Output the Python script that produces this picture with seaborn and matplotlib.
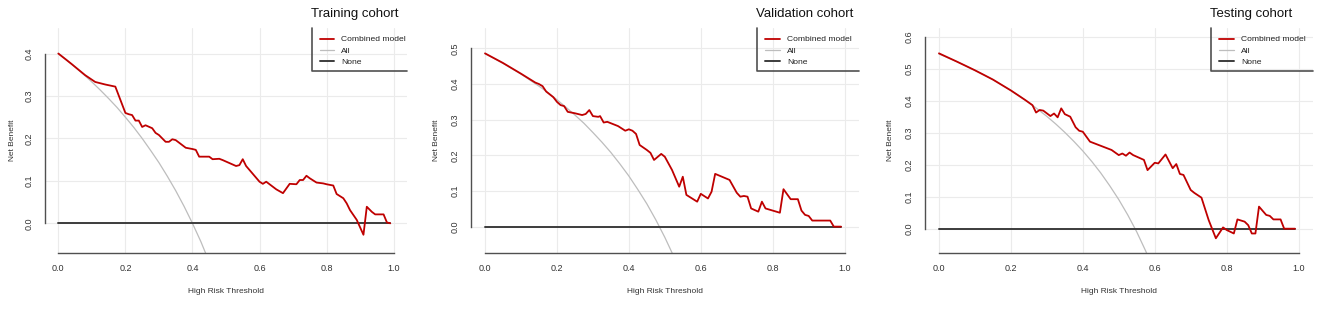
import matplotlib
matplotlib.use("Agg")
import matplotlib.pyplot as plt
import seaborn as sns
import numpy as np

sns.set_style("white")
plt.rcParams['font.family'] = ['Liberation Sans', 'DejaVu Sans']

# ---- data ----
titles = ["Training cohort", "Validation cohort", "Testing cohort"]
legend_labels = ["Combined model", "All", "None"]
x_ticks = [0.0, 0.2, 0.4, 0.6, 0.8, 1.0]
y_ticks_train = [0.0, 0.1, 0.2, 0.3, 0.4]
y_ticks_valid = [0.0, 0.1, 0.2, 0.3, 0.4, 0.5]
y_ticks_test = [0.0, 0.1, 0.2, 0.3, 0.4, 0.5, 0.6]

# treat-all curves
all_t = [0.000, 0.025, 0.050, 0.075, 0.100, 0.125, 0.150, 0.175, 0.200, 0.225,
         0.250, 0.275, 0.300, 0.325, 0.350, 0.375, 0.400, 0.425, 0.450, 0.475,
         0.500, 0.525, 0.550, 0.575, 0.600]
all_train = [0.400, 0.385, 0.368, 0.351, 0.333, 0.314, 0.294, 0.273, 0.250, 0.226,
             0.200, 0.172, 0.143, 0.111, 0.077, 0.040, 0.000, -0.043, -0.091, -0.145,
             -0.200, -0.262, -0.333, -0.412, -0.500]
all_valid = [0.485, 0.472, 0.458, 0.443, 0.428, 0.411, 0.394, 0.376, 0.356, 0.335,
             0.313, 0.290, 0.264, 0.237, 0.208, 0.176, 0.142, 0.104, 0.064, 0.019,
             -0.030, -0.084, -0.144, -0.212, -0.288]
all_test = [0.546, 0.534, 0.522, 0.509, 0.495, 0.481, 0.466, 0.449, 0.432, 0.414,
            0.394, 0.373, 0.351, 0.327, 0.301, 0.273, 0.243, 0.210, 0.174, 0.134,
            0.091, 0.043, -0.010, -0.070, -0.137]

# treat-none
none_t = [0.0, 0.99]
none_v = [0.0, 0.0]

# combined model
model_t_train = [0.00, 0.04, 0.08, 0.11, 0.14, 0.17, 0.20, 0.21, 0.22, 0.23, 0.24, 0.25,
                 0.26, 0.28, 0.29, 0.30, 0.32, 0.33, 0.34, 0.35, 0.38, 0.40, 0.41, 0.42,
                 0.45, 0.46, 0.48, 0.49, 0.53, 0.54, 0.55, 0.56, 0.60, 0.61, 0.62, 0.63,
                 0.65, 0.67, 0.69, 0.71, 0.72, 0.73, 0.74, 0.75, 0.77, 0.79, 0.80, 0.82,
                 0.83, 0.85, 0.86, 0.87, 0.89, 0.91, 0.92, 0.935, 0.945, 0.97, 0.98, 0.99]
model_v_train = [0.400, 0.375, 0.349, 0.333, 0.327, 0.322, 0.260, 0.257, 0.255, 0.242, 0.242, 0.227,
                 0.231, 0.224, 0.213, 0.208, 0.192, 0.192, 0.198, 0.196, 0.178, 0.175, 0.173, 0.157,
                 0.157, 0.151, 0.152, 0.149, 0.135, 0.137, 0.151, 0.135, 0.098, 0.093, 0.098, 0.092,
                 0.080, 0.071, 0.093, 0.092, 0.102, 0.102, 0.112, 0.106, 0.096, 0.094, 0.092, 0.089,
                 0.069, 0.059, 0.047, 0.031, 0.008, -0.027, 0.039, 0.027, 0.021, 0.021, 0.002, 0.000]

model_t_valid = [0.00, 0.05, 0.10, 0.14, 0.15, 0.16, 0.17, 0.19, 0.20, 0.21, 0.22, 0.23,
                 0.25, 0.27, 0.28, 0.29, 0.30, 0.315, 0.32, 0.33, 0.34, 0.37, 0.39, 0.40,
                 0.41, 0.42, 0.43, 0.45, 0.46, 0.47, 0.49, 0.50, 0.52, 0.54, 0.55, 0.56,
                 0.59, 0.60, 0.62, 0.63, 0.64, 0.68, 0.70, 0.71, 0.72, 0.73, 0.74, 0.76,
                 0.77, 0.78, 0.82, 0.83, 0.85, 0.87, 0.88, 0.89, 0.90, 0.91, 0.96, 0.97, 0.99]
model_v_valid = [0.486, 0.459, 0.429, 0.404, 0.400, 0.394, 0.379, 0.363, 0.350, 0.341, 0.338, 0.322,
                 0.318, 0.313, 0.316, 0.327, 0.310, 0.308, 0.310, 0.292, 0.294, 0.282, 0.269, 0.273,
                 0.269, 0.260, 0.229, 0.215, 0.207, 0.187, 0.204, 0.196, 0.159, 0.112, 0.140, 0.089,
                 0.070, 0.092, 0.079, 0.098, 0.148, 0.131, 0.095, 0.084, 0.086, 0.084, 0.051, 0.042,
                 0.070, 0.051, 0.039, 0.105, 0.077, 0.077, 0.045, 0.033, 0.030, 0.017, 0.017, 0.000, 0.000]

model_t_test = [0.00, 0.05, 0.10, 0.15, 0.20, 0.24, 0.26, 0.27, 0.28, 0.29, 0.31, 0.32,
                0.33, 0.34, 0.35, 0.365, 0.38, 0.39, 0.40, 0.42, 0.45, 0.48, 0.50, 0.51,
                0.52, 0.53, 0.54, 0.56, 0.57, 0.58, 0.60, 0.61, 0.63, 0.65, 0.66, 0.67,
                0.68, 0.70, 0.71, 0.73, 0.75, 0.77, 0.79, 0.80, 0.82, 0.83, 0.85, 0.86,
                0.87, 0.88, 0.89, 0.91, 0.92, 0.93, 0.95, 0.96, 0.99]
model_v_test = [0.548, 0.522, 0.495, 0.466, 0.432, 0.402, 0.386, 0.363, 0.371, 0.369, 0.352, 0.360,
                0.348, 0.376, 0.358, 0.350, 0.317, 0.306, 0.303, 0.272, 0.259, 0.246, 0.230, 0.235,
                0.228, 0.238, 0.230, 0.220, 0.215, 0.183, 0.206, 0.204, 0.232, 0.189, 0.202, 0.171,
                0.168, 0.121, 0.112, 0.097, 0.027, -0.030, 0.004, -0.004, -0.015, 0.029, 0.022, 0.011,
                -0.015, -0.015, 0.069, 0.043, 0.040, 0.029, 0.029, 0.000, 0.000]

panels = [
    dict(title=titles[0], mt=model_t_train, mv=model_v_train, av=all_train,
         yt=y_ticks_train, ylim=(-0.070, 0.460), rect=[0.0339, 0.1812, 0.2733, 0.728]),
    dict(title=titles[1], mt=model_t_valid, mv=model_v_valid, av=all_valid,
         yt=y_ticks_valid, ylim=(-0.074, 0.557), rect=[0.3552, 0.1812, 0.2931, 0.728]),
    dict(title=titles[2], mt=model_t_test, mv=model_v_test, av=all_test,
         yt=y_ticks_test, ylim=(-0.076, 0.627), rect=[0.6978, 0.1812, 0.2931, 0.728]),
]

RED = "#bf0000"
ALLC = "#bdbdbd"
NONEC = "#3c3c3c"
AXC = "#505050"

fig = plt.figure(figsize=(13.25, 3.09), dpi=100)

for p in panels:
    ax = fig.add_axes(p["rect"])
    sns.lineplot(x=all_t, y=p["av"], ax=ax, color=ALLC, lw=0.9, label=legend_labels[1])
    sns.lineplot(x=none_t, y=none_v, ax=ax, color=NONEC, lw=1.4, label=legend_labels[2])
    sns.lineplot(x=p["mt"], y=p["mv"], ax=ax, color=RED, lw=1.3, label=legend_labels[0])

    ax.set_xlim(-0.04, 1.04)
    ax.set_ylim(*p["ylim"])
    ax.set_xticks(x_ticks)
    ax.set_xticklabels([f"{v:.1f}" for v in x_ticks])
    ax.set_yticks(p["yt"])
    ax.set_yticklabels([f"{v:.1f}" for v in p["yt"]])
    ax.grid(True, color="#ebebeb", lw=0.8)
    ax.set_axisbelow(True)

    for s in ["top", "right"]:
        ax.spines[s].set_visible(False)
    ax.spines["left"].set_bounds(p["yt"][0], p["yt"][-1])
    ax.spines["bottom"].set_bounds(x_ticks[0], x_ticks[-1])
    for s in ["left", "bottom"]:
        ax.spines[s].set_color(AXC)
        ax.spines[s].set_linewidth(1.0)

    ax.tick_params(axis="both", direction="out", length=3, width=0.8, color=AXC,
                   labelsize=6.5, labelcolor="#333333")
    ax.tick_params(axis="y", labelrotation=90, pad=5)
    ax.tick_params(axis="x", pad=5)
    for lab in ax.get_yticklabels():
        lab.set_va("center")

    ax.set_xlabel("High Risk Threshold", fontsize=6, color="#333333")
    ax.set_ylabel("Net Benefit", fontsize=6, color="#333333")
    ax.xaxis.set_label_coords(0.5, -0.173)
    ax.xaxis.label.set_va("center")
    ax.yaxis.set_label_coords(-0.089, 0.5)
    ax.yaxis.label.set_va("center")

    # legend, reordered: model, all, none
    h, l = ax.get_legend_handles_labels()
    order = [l.index(name) for name in legend_labels]
    leg = ax.legend([h[i] for i in order], [l[i] for i in order],
                    loc="upper left", bbox_to_anchor=(0.752, 0.978), frameon=False,
                    fontsize=6.1, handlelength=1.7, handletextpad=0.85,
                    labelspacing=0.42, borderaxespad=0.0, borderpad=0.3)
    for t in leg.get_texts():
        t.set_color("#222222")
    # legend box edges (left and bottom only, as in the reference)
    ax.plot([0.738, 0.738, 1.0], [1.0, 0.809, 0.809], transform=ax.transAxes,
            color=AXC, lw=1.2, clip_on=False)

    ax.text(0.735, 1.062, p["title"], transform=ax.transAxes, fontsize=9.5,
            ha="left", va="center", color="#111111")

fig.savefig("out.png", dpi=100)
